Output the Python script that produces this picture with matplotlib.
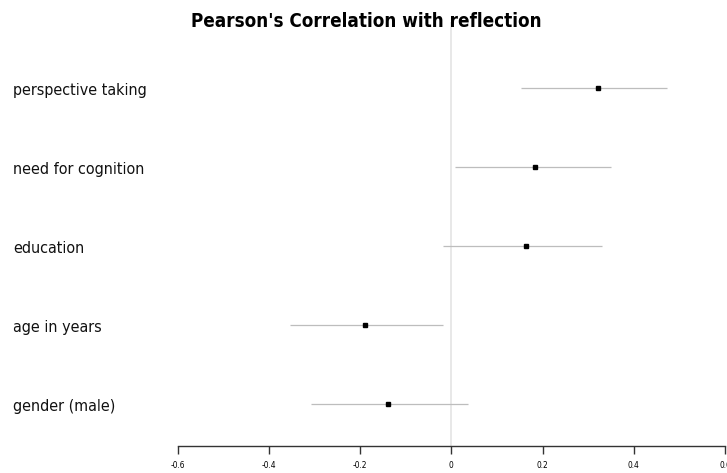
import matplotlib
matplotlib.use("Agg")
import matplotlib.pyplot as plt
import matplotlib.transforms as mtransforms
from matplotlib import font_manager

# Correlations with reflection and their 95% confidence intervals
labels = ["perspective taking", "need for cognition", "education", "age in years", "gender (male)"]
r_values = [0.322, 0.184, 0.163, -0.190, -0.139]
ci_low = [0.152, 0.009, -0.017, -0.354, -0.307]
ci_high = [0.472, 0.350, 0.330, -0.017, 0.037]
tick_values = [-0.6, -0.4, -0.2, 0, 0.2, 0.4, 0.6]
tick_labels = ["-0.6", "-0.4", "-0.2", "0", "0.2", "0.4", "0.6"]

family = "DejaVu Sans"
stretch = "normal"
if any(f.name == "DejaVu Sans" and f.stretch == "condensed" for f in font_manager.fontManager.ttflist):
    stretch = "condensed"
else:
    family = "Liberation Sans"

plt.rcParams["font.family"] = [family, "DejaVu Sans"]

W, H = 727, 473
fig = plt.figure(figsize=(W / 100, H / 100), dpi=100)

# axes placed so the x scale runs from -0.6 to 0.6 under the plotted rows
left_px, right_px = 177.5, 725.0
top_px, bottom_px = 22.0, 446.0
ax = fig.add_axes([left_px / W, 1 - bottom_px / H,
                   (right_px - left_px) / W, (bottom_px - top_px) / H])
ax.set_xlim(-0.6, 0.6)
ax.set_ylim(0.47, 5.835)

n = len(labels)
ypos = [n - i for i in range(n)]

ax.axvline(0, color="#e4e4e4", lw=1.2, zorder=0)
for y, r, lo, hi in zip(ypos, r_values, ci_low, ci_high):
    ax.hlines(y, lo, hi, color="#bdbdbd", lw=0.9, zorder=1)
ax.plot(r_values, ypos, ls="none", marker="s", ms=3.0, color="black", zorder=2)

for side in ["top", "right", "left"]:
    ax.spines[side].set_visible(False)
ax.spines["bottom"].set_color("#333333")
ax.spines["bottom"].set_linewidth(1.0)
ax.set_yticks([])
ax.set_xticks(tick_values)
ax.set_xticklabels(tick_labels, fontsize=6, stretch=stretch)
ax.tick_params(axis="x", direction="out", length=6, width=1.0, color="#333333", pad=5)

# row labels: x in figure coordinates, y in data coordinates, nudged down a little
label_trans = mtransforms.blended_transform_factory(fig.transFigure, ax.transData) + \
    mtransforms.ScaledTranslation(0, -2.5 / 100, fig.dpi_scale_trans)
for y, lab in zip(ypos, labels):
    ax.text(13 / W, y, lab, fontsize=11.5, stretch=stretch, va="center", ha="left",
            transform=label_trans, clip_on=False, color="#111111")

fig.text(366 / W, 1 - 21 / H, "Pearson's Correlation with reflection", fontsize=13.5,
         fontweight="bold", stretch=stretch, ha="center", va="center", color="black")

fig.savefig("out.png", dpi=100)
